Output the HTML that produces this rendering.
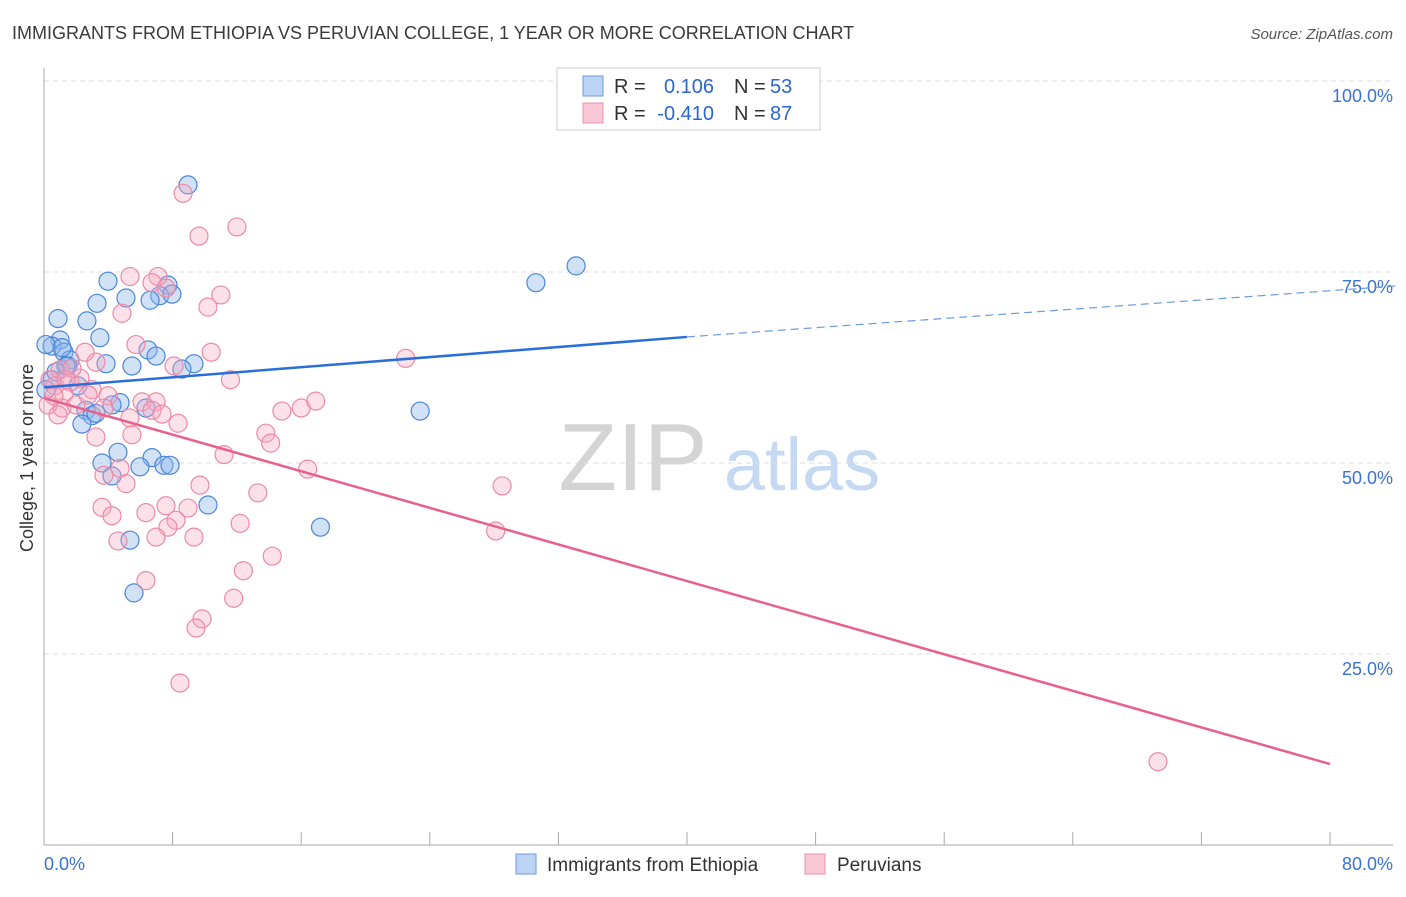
<!DOCTYPE html>
<html><head><meta charset="utf-8"><style>
body{margin:0;background:#fff;font-family:"Liberation Sans",sans-serif}
svg text{font-family:"Liberation Sans",sans-serif}
</style></head><body>
<svg id="c" width="1406" height="892">
<text x="12" y="39" font-size="18" fill="#3a3a3a">IMMIGRANTS FROM ETHIOPIA VS PERUVIAN COLLEGE, 1 YEAR OR MORE CORRELATION CHART</text>
<text x="1393" y="39" font-size="15" fill="#555" text-anchor="end" font-style="italic">Source: ZipAtlas.com</text>
<text x="33" y="458" font-size="18" fill="#333" text-anchor="middle" transform="rotate(-90 33 458)">College, 1 year or more</text>
<g><text x="633" y="490" font-size="96" fill="#d4d4d4" text-anchor="middle" font-family="Liberation Serif,serif">ZIP</text><text x="802" y="490" font-size="74" fill="#c6d9f2" text-anchor="middle">atlas</text></g>
<g id="grid"></g><g id="axes"></g><g id="pts"></g><g id="trend"></g>
<g>
<rect x="557" y="68" width="263" height="62" fill="#fff" stroke="#ccc"/>
<rect x="583" y="76" width="20" height="20" fill="#bcd4f4" stroke="#6b9ae0"/>
<rect x="583" y="103" width="20" height="20" fill="#f9c8d6" stroke="#ec90aa"/>
<text x="614" y="93" font-size="20" fill="#333">R =</text><text x="714" y="93" font-size="20" fill="#2a66cc" text-anchor="end">0.106</text>
<text x="734" y="93" font-size="20" fill="#333">N =</text><text x="770" y="93" font-size="20" fill="#2a66cc">53</text>
<text x="614" y="120" font-size="20" fill="#333">R =</text><text x="714" y="120" font-size="20" fill="#2a66cc" text-anchor="end">-0.410</text>
<text x="734" y="120" font-size="20" fill="#333">N =</text><text x="770" y="120" font-size="20" fill="#2a66cc">87</text>
</g>
<g>
<rect x="516" y="854" width="20" height="20" fill="#bcd4f4" stroke="#6b9ae0"/>
<text x="547" y="871" font-size="19" fill="#333">Immigrants from Ethiopia</text>
<rect x="805" y="854" width="20" height="20" fill="#f9c8d6" stroke="#ec90aa"/>
<text x="837" y="871" font-size="19" fill="#333">Peruvians</text>
</g>
</svg>
<script>
const xTicks=[0,80];
const yTicks=[25,50,75,100];
const blueX=[8.96,33.1,30.6,3.98,7.71,5.1,7.2,7.96,6.6,3.3,0.87,2.67,1.0,3.48,0.5,1.24,6.47,6.97,1.62,1.49,9.33,5.47,8.58,3.86,2.11,23.4,4.73,6.34,2.61,2.99,2.36,4.6,6.72,3.61,5.97,7.46,7.84,4.23,10.2,17.2,5.35,5.6,0.5,0.75,0.12,1.12,3.23,4.23,0.12,1.37];
const blueY=[86.4,75.8,73.6,73.8,73.3,71.6,71.9,72.1,71.3,70.9,68.9,68.6,66.1,66.4,65.3,64.5,64.8,64.0,63.5,62.7,63.0,62.7,62.3,63.0,60.1,56.8,57.9,57.2,56.9,56.2,55.1,51.4,50.7,50.0,49.5,49.7,49.7,48.3,44.5,41.6,39.9,33.0,60.9,61.9,59.6,65.1,56.5,57.6,65.5,62.7];
const pinkX=[8.65,12.0,9.64,5.35,7.09,6.72,7.59,11.0,10.2,4.85,5.72,10.4,22.5,8.09,11.6,3.23,2.55,1.0,0.37,0.68,1.62,2.99,1.24,3.98,1.12,1.99,3.73,6.1,6.97,6.72,7.34,8.34,5.35,14.8,16.0,16.9,13.8,14.1,5.47,3.23,11.2,16.4,4.73,3.73,5.1,9.7,28.5,13.3,3.61,4.23,6.34,7.59,8.96,8.21,7.71,12.2,6.97,9.33,4.6,28.1,14.2,12.4,6.34,11.8,9.83,9.46,8.46,69.3,0.25,0.87,2.24,2.74,1.74,1.37,0.62];
const pinkY=[85.3,80.9,79.7,74.4,74.4,73.6,72.9,72.0,70.4,69.6,65.5,64.5,63.7,62.7,60.9,63.2,64.5,62.2,60.9,60.1,60.6,59.6,59.0,58.8,57.2,57.6,57.2,58.0,58.0,56.9,56.4,55.2,55.9,56.8,57.2,58.1,53.9,52.6,53.7,53.4,51.1,49.2,49.3,48.4,47.3,47.1,47.0,46.1,44.2,43.1,43.5,44.4,44.1,42.5,41.6,42.1,40.3,40.3,39.8,41.1,37.8,35.9,34.6,32.3,29.6,28.4,21.2,10.9,57.6,56.3,61.1,58.9,62.4,60.9,58.8];
const blueTrend=[[0,59.9],[40,66.5],[84.3,73.2]];
const pinkTrend=[[0,58.5],[80,10.6]];
const X=v=>44+v*16.075, Y=v=>845-v*7.64;
const NS="http://www.w3.org/2000/svg";
function mk(t,a,p){const e=document.createElementNS(NS,t);for(const k in a)e.setAttribute(k,a[k]);document.getElementById(p).appendChild(e);return e;}
yTicks.forEach(t=>{
 const l=mk('line',{x1:44,x2:1393,y1:Y(t),y2:Y(t),stroke:'#ddd','stroke-dasharray':'5,4'},'grid');
 
 
 const tx=mk('text',{x:1393,y:Y(t)+21,'font-size':18,fill:'#3a72d0','text-anchor':'end'},'grid');
 tx.textContent=t.toFixed(1)+'%';
 
 
});
const ax=mk('line',{x1:44,x2:44,y1:68,y2:845,stroke:'#aaa'},'axes');


const bx=mk('line',{x1:44,x2:1393,y1:845,y2:845,stroke:'#aaa'},'axes');


for(let i=0;i<=10;i++){const v=i*8;const tk=mk('line',{x1:X(v),x2:X(v),y1:832,y2:845,stroke:'#aaa'},'axes');
 
 }
xTicks.forEach((t,i)=>{const tx=mk('text',{x:i?1393:44,y:870,'font-size':18,fill:'#3a72d0','text-anchor':i?'end':'start'},'axes');tx.textContent=t.toFixed(1)+'%';
 
 });
blueX.forEach((v,i)=>{const c=mk('circle',{cx:X(v),cy:Y(blueY[i]),r:9,fill:'rgba(140,182,236,0.4)',stroke:'#4a86d8','stroke-width':1.2},'pts');
 
 });
pinkX.forEach((v,i)=>{const c=mk('circle',{cx:X(v),cy:Y(pinkY[i]),r:9,fill:'rgba(246,170,192,0.35)',stroke:'#ec8aa6','stroke-width':1.2},'pts');
 
 });
const b1=mk('line',{x1:X(blueTrend[0][0]),y1:Y(blueTrend[0][1]),x2:X(blueTrend[1][0]),y2:Y(blueTrend[1][1]),stroke:'#2a6ed8','stroke-width':2.5},'trend');


const b2=mk('line',{x1:X(blueTrend[1][0]),y1:Y(blueTrend[1][1]),x2:X(blueTrend[2][0]),y2:Y(blueTrend[2][1]),stroke:'#6b9ae0','stroke-width':1.2,'stroke-dasharray':'8,5'},'trend');


const p1=mk('line',{x1:X(pinkTrend[0][0]),y1:Y(pinkTrend[0][1]),x2:X(pinkTrend[1][0]),y2:Y(pinkTrend[1][1]),stroke:'#e8608c','stroke-width':2.5},'trend');


</script>
</body></html>
